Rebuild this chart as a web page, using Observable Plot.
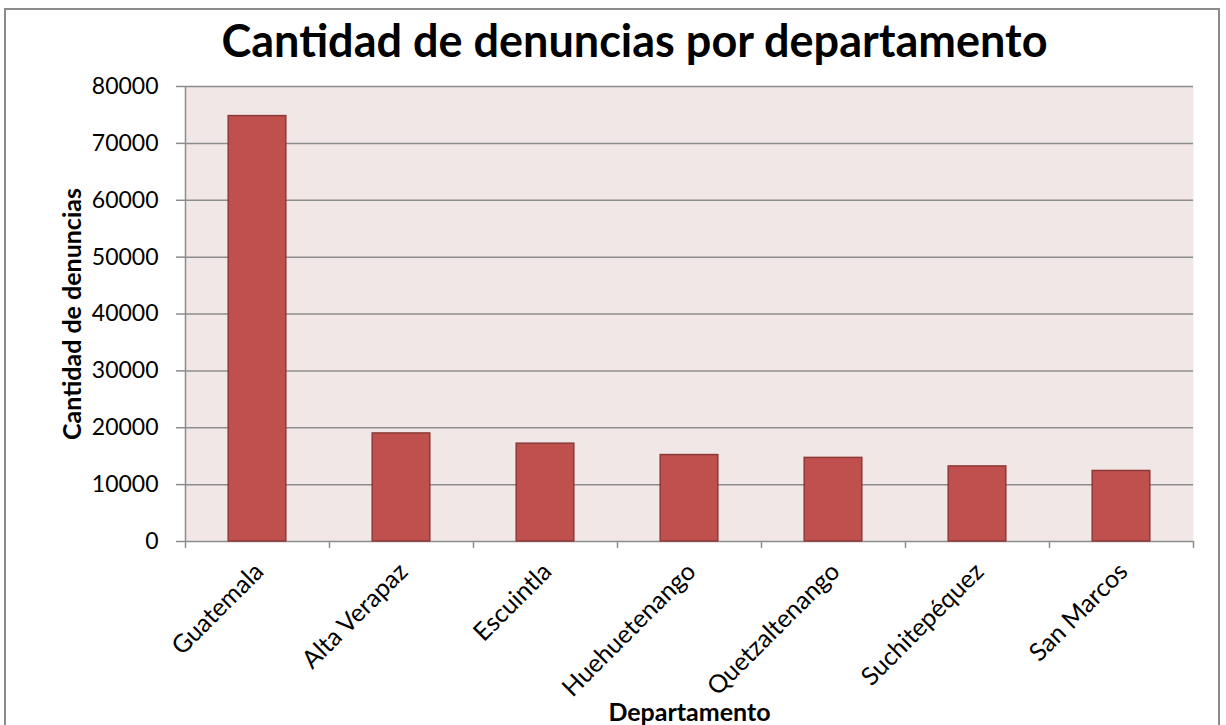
<!DOCTYPE html>
<html>
<head>
<meta charset="utf-8">
<script src="https://cdn.jsdelivr.net/npm/d3@7"></script>
<script src="https://cdn.jsdelivr.net/npm/@observablehq/plot@0.6"></script>
<style>
  html, body { margin: 0; padding: 0; background: #fff; overflow: hidden; }
  #wrap { position: relative; width: 1226px; height: 725px; }
  #border { position: absolute; left: 4px; top: 8px; width: 1216px; height: 740px; border: 2px solid #8c8c8c; box-sizing: border-box; pointer-events: none; }
</style>
</head>
<body>
<div id="wrap"><div id="border"></div></div>
<script>
const categories = ["Guatemala", "Alta Verapaz", "Escuintla", "Huehuetenango", "Quetzaltenango", "Suchitepéquez", "San Marcos"];
const values = [74800, 19000, 17200, 15200, 14700, 13200, 12400];
const yTicks = [0, 10000, 20000, 30000, 40000, 50000, 60000, 70000, 80000];
const title = "Cantidad de denuncias por departamento";
const yTitle = "Cantidad de denuncias";
const xTitle = "Departamento";

const data = categories.map((name, i) => ({name, value: values[i], i}));
const boundaries = d3.range(categories.length + 1);

const chart = Plot.plot({
  width: 1226,
  height: 725,
  marginLeft: 185,
  marginRight: 33,
  marginTop: 86,
  marginBottom: 184,
  style: {fontFamily: "Lato, 'Open Sans', sans-serif", background: "transparent", color: "#000"},
  x: {domain: [0, categories.length], axis: null},
  y: {domain: [0, 80000], axis: null},
  marks: [
    Plot.frame({fill: "#F2E7E7", stroke: null}),
    Plot.ruleY(yTicks, {stroke: "#8c8c8c", strokeWidth: 1.5}),
    Plot.ruleX([0], {stroke: "#8c8c8c", strokeWidth: 1.5}),
    Plot.rectY(data, {x1: d => d.i + 0.3, x2: d => d.i + 0.7, y: "value", fill: "#C0504D", stroke: "#8B3A38", strokeWidth: 1.5}),
    Plot.axisY({ticks: yTicks, tickSize: 9, tickPadding: 18, tickFormat: d => String(d), fontSize: 23, stroke: "#8c8c8c", strokeWidth: 1.5, fill: "#000", label: null}),
    Plot.axisX({ticks: boundaries, tickSize: 7, tickFormat: () => "", stroke: "#8c8c8c", strokeWidth: 1.5, label: null}),
    Plot.text(data, {x: d => d.i + 0.5, y: 0, text: "name", rotate: -45, textAnchor: "end", dx: 2, dy: 26, fontSize: 25, fill: "#000"}),
    Plot.text([title], {text: d => d, frameAnchor: "top", lineAnchor: "middle", dx: -55, dy: -44, fontSize: 45, fontWeight: "bold", fill: "#000"}),
    Plot.text([yTitle], {text: d => d, frameAnchor: "left", textAnchor: "middle", lineAnchor: "middle", rotate: -90, dx: -113, fontSize: 25, fontWeight: "bold", fill: "#000"}),
    Plot.text([xTitle], {text: d => d, frameAnchor: "bottom", lineAnchor: "middle", dy: 171, fontSize: 25, fontWeight: "bold", fill: "#000"})
  ]
});
document.getElementById("wrap").prepend(chart);
</script>
</body>
</html>
